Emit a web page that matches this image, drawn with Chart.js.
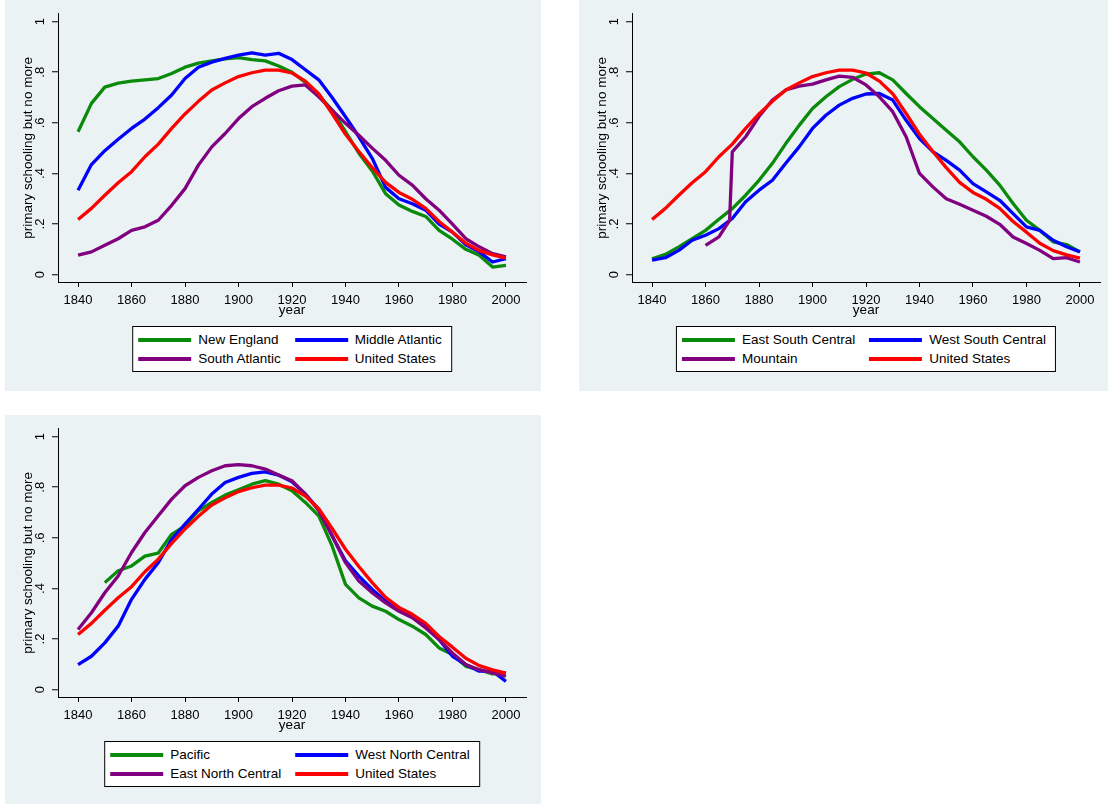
<!DOCTYPE html>
<html>
<head>
<meta charset="utf-8">
<script src="https://cdn.jsdelivr.net/npm/chart.js@4"></script>
<style>
body { margin: 0; width: 1108px; height: 804px; overflow: hidden; background: #fff; position: relative;
       font-family: "Liberation Sans", Arial, sans-serif; }
.panel { position: absolute; width: 536px; height: 391px; background: #eaf2f3; }
.panel canvas { position: absolute; left: 0; top: 0; }
.legend { position: absolute; top: 326px; left: 287px; transform: translateX(-50%);
          background: #fff; border: 1px solid #000; padding: 3px 9px 3px 5px;
          display: grid; grid-template-columns: 1fr 1fr; column-gap: 14px; white-space: nowrap; }
.item { display: flex; align-items: center; height: 19px; font-size: 13.5px; color: #000; }
.key { width: 53px; height: 4px; margin-right: 7px; flex: none; }
</style>
</head>
<body>
<div class="panel" id="p1" style="left:5px;top:0px"><canvas id="c1" width="536" height="325"></canvas></div>
<div class="panel" id="p2" style="left:579px;top:0px"><canvas id="c2" width="536" height="325"></canvas></div>
<div class="panel" id="p3" style="left:5px;top:415px"><canvas id="c3" width="536" height="325"></canvas></div>

<script>
// years 1840..2000, every 5 years
const years = [1840, 1845, 1850, 1855, 1860, 1865, 1870, 1875, 1880, 1885, 1890, 1895, 1900, 1905, 1910, 1915,
               1920, 1925, 1930, 1935, 1940, 1945, 1950, 1955, 1960, 1965, 1970, 1975, 1980, 1985, 1990, 1995, 2000];
// Mountain starts in 1860 and jumps in 1869-70
const mountainYears = [1860, 1865, 1869, 1870, 1875, 1880, 1885, 1890, 1895, 1900, 1905, 1910, 1915, 1920, 1925,
                       1930, 1935, 1940, 1945, 1950, 1955, 1960, 1965, 1970, 1975, 1980, 1985, 1990, 1995, 2000];

const unitedStates = [.218, .262, .314, .363, .407, .466, .516, .578, .635, .685, .730, .758, .783, .798, .808, .808,
                      .797, .765, .715, .637, .555, .487, .423, .365, .325, .298, .262, .210, .168, .124, .095, .078, .065];
const newEngland = [.565, .677, .741, .757, .765, .770, .775, .795, .820, .836, .845, .853, .858, .850, .845, .825,
                    .800, .760, .710, .650, .565, .480, .410, .320, .275, .250, .230, .175, .140, .100, .077, .030, .037];
const middleAtlantic = [.334, .435, .490, .535, .578, .615, .660, .710, .775, .820, .840, .855, .868, .877, .868, .875,
                        .850, .810, .770, .700, .624, .545, .460, .345, .300, .280, .255, .200, .168, .118, .090, .050, .063];
const southAtlantic = [.077, .090, .116, .142, .175, .189, .215, .274, .340, .433, .505, .558, .617, .664, .697, .727,
                       .745, .750, .703, .650, .598, .551, .500, .452, .393, .354, .300, .255, .200, .142, .110, .083, .070];

const eastSouthCentral = [.063, .080, .110, .142, .175, .219, .261, .314, .373, .440, .518, .590, .657, .703, .743, .772,
                          .793, .798, .770, .716, .664, .617, .571, .525, .466, .413, .354, .281, .215, .175, .130, .119, .090];
const westSouthCentral = [.057, .067, .096, .136, .156, .182, .222, .288, .334, .373, .440, .505, .578, .630, .670, .697,
                          .714, .716, .690, .610, .538, .486, .452, .413, .360, .327, .294, .241, .189, .175, .136, .110, .090];
const mountain = [.116, .149, .215, .485, .545, .625, .690, .730, .745, .753, .770, .785, .780, .750, .703,
                  .644, .545, .400, .347, .300, .278, .255, .231, .199, .149, .123, .096, .063, .067, .050];

const pacific = [null, null, .423, .470, .489, .528, .540, .614, .647, .707, .740, .769, .790, .812, .826, .812,
                 .786, .740, .687, .568, .416, .363, .330, .310, .277, .251, .218, .165, .139, .092, .079, .062, .066];
const westNorthCentral = [.099, .132, .185, .251, .357, .436, .502, .594, .654, .713, .773, .819, .839, .855, .861, .848,
                          .822, .773, .713, .608, .509, .449, .396, .350, .317, .291, .251, .198, .132, .099, .073, .073, .033];
const eastNorthCentral = [.238, .304, .383, .449, .542, .621, .687, .753, .806, .839, .865, .885, .889, .885, .872, .848,
                          .826, .773, .707, .608, .502, .429, .383, .343, .310, .284, .244, .198, .145, .099, .079, .066, .053];

const xTicks = [1840, 1860, 1880, 1900, 1920, 1940, 1960, 1980, 2000];
const yTicks = [0, .2, .4, .6, .8, 1];

const GREEN = '#0a8a0a', BLUE = '#0000ff', PURPLE = '#800080', RED = '#ff0000';
const FONT = '"Liberation Sans", Arial, sans-serif';

const panels = [
    { canvas: 'c1', panel: 'p1', series: [
        ['New England', years, newEngland, GREEN],
        ['Middle Atlantic', years, middleAtlantic, BLUE],
        ['South Atlantic', years, southAtlantic, PURPLE],
        ['United States', years, unitedStates, RED]] },
    { canvas: 'c2', panel: 'p2', series: [
        ['East South Central', years, eastSouthCentral, GREEN],
        ['West South Central', years, westSouthCentral, BLUE],
        ['Mountain', mountainYears, mountain, PURPLE],
        ['United States', years, unitedStates, RED]] },
    { canvas: 'c3', panel: 'p3', series: [
        ['Pacific', years, pacific, GREEN],
        ['West North Central', years, westNorthCentral, BLUE],
        ['East North Central', years, eastNorthCentral, PURPLE],
        ['United States', years, unitedStates, RED]] }
];

function yLabel(v) {
    if (v === 0) return '0';
    if (v === 1) return '1';
    return String(v).replace('0.', '.');
}

panels.forEach(p => {
    const datasets = p.series.map(([label, xs, ys, color], i) => ({
        label,
        data: xs.map((x, k) => ({ x, y: ys[k] })),
        borderColor: color,
        backgroundColor: color,
        borderWidth: 3.3,
        borderJoinStyle: 'round',
        pointRadius: 0,
        tension: 0,
        fill: false,
        order: p.series.length - 1 - i   // later series on top, like Stata
    }));

    new Chart(document.getElementById(p.canvas), {
        type: 'line',
        data: { datasets },
        options: {
            animation: false,
            responsive: false,
            devicePixelRatio: 1,
            events: [],
            layout: { padding: { top: 13, right: 15, left: 0, bottom: 0 } },
            plugins: { legend: { display: false }, tooltip: { enabled: false } },
            scales: {
                x: {
                    type: 'linear', min: 1832.5, max: 2007.5,
                    afterBuildTicks: s => { s.ticks = xTicks.map(v => ({ value: v })); },
                    afterFit: s => { s.height = 43; },
                    grid: { drawOnChartArea: false, tickLength: 5, tickColor: '#000', tickWidth: 1 },
                    border: { color: '#000', width: 1 },
                    ticks: { color: '#000', padding: 6, autoSkip: false, maxRotation: 0,
                             font: { family: FONT, size: 13 }, callback: v => String(v) },
                    title: { display: true, text: 'year', color: '#000',
                             font: { family: FONT, size: 13.5 }, padding: { top: 0, bottom: 7 } }
                },
                y: {
                    type: 'linear', min: -0.029, max: 1.031,
                    afterBuildTicks: s => { s.ticks = yTicks.map(v => ({ value: v })); },
                    afterFit: s => { s.width = 53; },
                    grid: { color: '#eaf2f3', lineWidth: 1.5, tickLength: 6, tickColor: '#000', tickWidth: 1 },
                    border: { color: '#000', width: 1 },
                    ticks: { color: '#000', padding: 6, autoSkip: false, minRotation: 90, maxRotation: 90,
                             crossAlign: 'center', font: { family: FONT, size: 13 }, callback: yLabel },
                    title: { display: true, text: 'primary schooling but no more', color: '#000',
                             font: { family: FONT, size: 13.5 }, padding: { top: 15, bottom: 0 } }
                }
            }
        }
    });

    // legend box, Stata style: two columns, row-major
    const box = document.createElement('div');
    box.className = 'legend';
    p.series.forEach(([label, , , color]) => {
        const item = document.createElement('div');
        item.className = 'item';
        item.innerHTML = `<span class="key" style="background:${color}"></span><span>${label}</span>`;
        box.appendChild(item);
    });
    document.getElementById(p.panel).appendChild(box);
});
</script>
</body>
</html>
